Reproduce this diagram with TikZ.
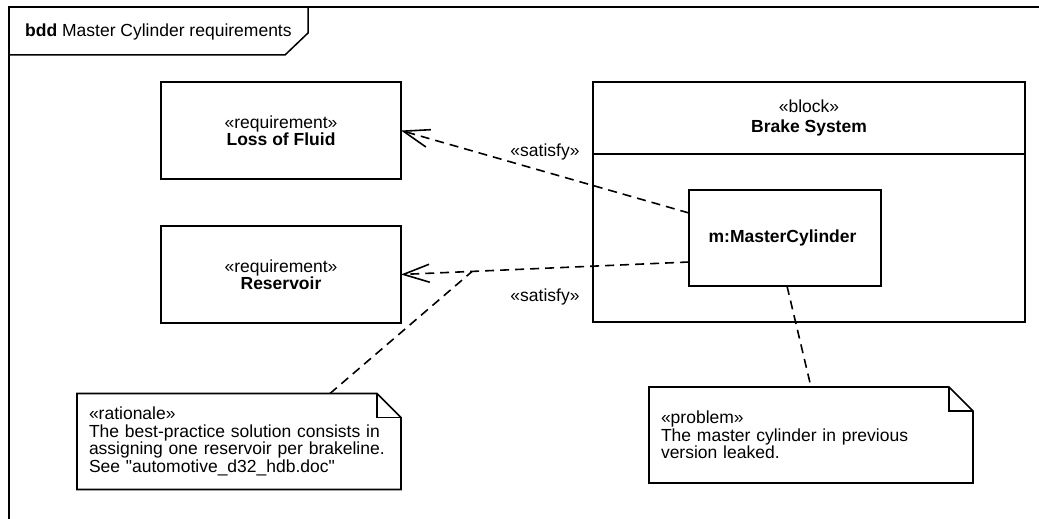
\documentclass[tikz,border=0pt]{standalone}
\usepackage{fontspec}
\setmainfont{Liberation Sans}[Ligatures=TeXOff]
\usetikzlibrary{positioning, arrows.meta}
\tikzset{
  txt/.style={font=\fontsize{17.5}{17.5}\selectfont},
  frameline/.style={line width=1.5pt},
  reqbox/.style={
    rectangle, txt,
    draw=black, line width=1.6pt,
    align=center, outer sep=0pt,
    minimum width=240pt, minimum height=97pt
  },
  blockbox/.style={
    rectangle, txt,
    draw=black, line width=1.6pt,
    align=center, outer sep=0pt,
    minimum width=432pt
  },
  partbox/.style={
    rectangle, txt,
    draw=black, line width=1.6pt,
    align=center, outer sep=0pt,
    minimum width=192pt, minimum height=96pt
  },
  notebox/.style={
    rectangle, txt,
    align=left, outer sep=0pt,
    text width=300pt, inner xsep=12pt,
    minimum width=324pt, minimum height=96pt
  },
  satisfy/.style={
    line width=1.6pt, dash pattern=on 9pt off 6pt,
    -{Straight Barb[length=26pt, width=18pt]}
  },
  anchorline/.style={line width=1.6pt, dash pattern=on 9pt off 6pt},
  satlabel/.style={txt, inner sep=0pt}
}
% note outline with folded corner
\newcommand{\notefold}[1]{%
  \draw[line width=1.6pt] (#1.south west) -- (#1.north west)
    -- ([xshift=-24pt]#1.north east) -- ([yshift=-24pt]#1.north east)
    -- (#1.south east) -- cycle;
  \draw[line width=1.6pt] ([xshift=-24pt]#1.north east)
    -- ([xshift=-24pt, yshift=-24pt]#1.north east)
    -- ([yshift=-24pt]#1.north east);
}

\begin{document}
\begin{tikzpicture}[x=1pt, y=-1pt]
\useasboundingbox (0,0) rectangle (1039,519);

% ==============================================================================
% Frame
% ==============================================================================
\draw[frameline] (9,519) -- (9,7) -- (1039,7);
\draw[frameline] (9,55) -- (285,55) -- (308,33) -- (308,7);
\node[txt, anchor=base west, inner sep=0pt] (title) at (25,37) {
  \textbf{bdd} Master Cylinder requirements
};

% ==============================================================================
% Requirements
% ==============================================================================
\node[reqbox] (lossfluid) at (281,130.5) {
  «requirement»\\
  \textbf{Loss of Fluid}
};

\node[reqbox, below=47pt of lossfluid] (reservoir) {
  «requirement»\\
  \textbf{Reservoir}
};

% ==============================================================================
% Block
% ==============================================================================
\node[blockbox, minimum height=240pt] (brake) at (809,202) {};

\node[blockbox, minimum height=72pt, anchor=north] (brakehead) at (brake.north) {
  «block»\\[3pt]
  \textbf{Brake System}
};

\node[partbox, below=36pt of brakehead, xshift=-24pt] (mc) {
  \textbf{m:MasterCylinder}
};

% ==============================================================================
% Notes
% ==============================================================================
\node[notebox] (rationale) at (239,441.5) {
  «rationale»\\
  The best-practice solution consists in\\
  assigning one reservoir per brakeline.\\
  See "automotive\_d32\_hdb.doc"
};
\notefold{rationale}

\node[notebox] (problem) at (811,435) {
  «problem»\\
  The master cylinder in previous\\
  version leaked.
};
\notefold{problem}

% ==============================================================================
% Arrows
% ==============================================================================
\draw[satisfy] ([yshift=25pt]mc.west) -- node[satlabel, yshift=20pt] (sat1) {«satisfy»} (lossfluid.east);
\draw[satisfy] ([yshift=-24pt]mc.west) -- node[satlabel, yshift=-29pt] (sat2) {«satisfy»}
  coordinate[pos=0.753] (ratpt) (reservoir.east);

\draw[anchorline] ([xshift=91pt]rationale.north) -- (ratpt);
\draw[anchorline] ([xshift=2pt]mc.south) -- (problem.north);

\end{tikzpicture}
\end{document}
